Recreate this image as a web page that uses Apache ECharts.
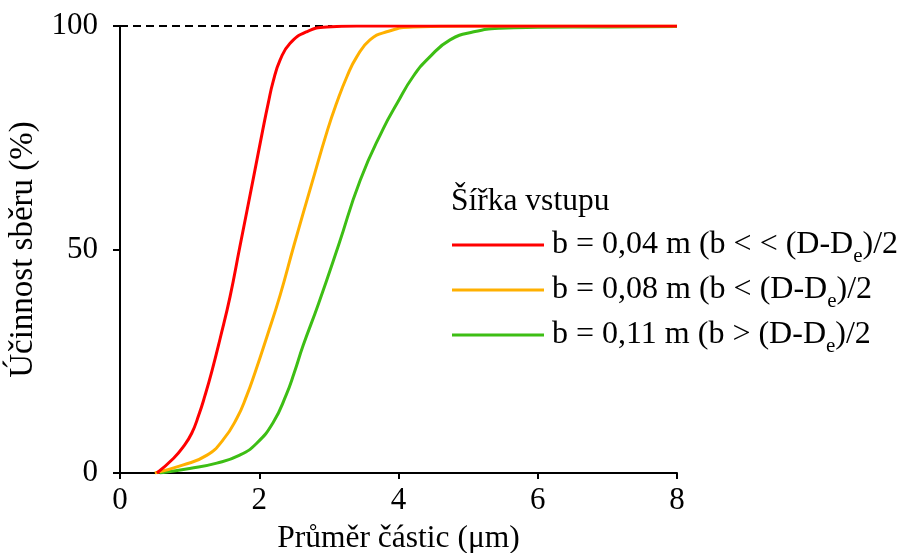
<!DOCTYPE html>
<html><head><meta charset="utf-8">
<script src="https://cdn.jsdelivr.net/npm/echarts@6/dist/echarts.min.js"></script>
<style>html,body{margin:0;padding:0;background:#fff}#c{width:901px;height:553px}</style>
</head><body><div id="c"></div>
<script>
const xTicks = [0, 2, 4, 6, 8];
const yTicks = [0, 50, 100];
const seriesNames = ['b = 0,04 m (b < < (D-De)/2', 'b = 0,08 m (b < (D-De)/2', 'b = 0,11 m (b > (D-De)/2'];
const legendTitle = 'Šířka vstupu';
const xTitle = 'Průměr částic (μm)';
const yTitle = 'Účinnost sběru (%)';
const redData = [[0.53,0],[0.77,3.3],[0.91,5.9],[1.03,8.9],[1.13,12.9],[1.22,17.3],[1.32,22.8],[1.44,30.2],[1.58,39.4],[1.72,50.5],[1.92,66.3],[2.05,76.7],[2.13,82.8],[2.2,87.6],[2.3,92.4],[2.44,96.1],[2.68,98.7],[2.97,99.8],[3.4,100],[4,100],[5,100],[6,100],[8,100]];
const orangeData = [[0.5,0],[0.91,1.8],[1.25,4],[1.48,7.4],[1.68,12.3],[1.82,17.3],[1.94,22.5],[2.11,30.5],[2.3,39.8],[2.5,51],[2.75,64.5],[2.98,76.7],[3.11,82.7],[3.26,88.7],[3.4,93.1],[3.59,96.9],[3.83,98.7],[4.21,99.8],[5,100],[6,100],[8,100]];
const greenData = [[0.57,0],[1.0,1.0],[1.39,2.2],[1.72,4.0],[1.96,6.6],[2.2,11.3],[2.39,17.6],[2.5,22.3],[2.63,28.5],[2.85,37.8],[3.14,51],[3.45,65.5],[3.78,77],[3.98,82.7],[4.21,88.7],[4.45,93.1],[4.74,96.9],[5.08,98.7],[5.46,99.5],[6,99.7],[7,99.8],[8,99.9]];
const refLine = [[0,100],[3.05,100]];
const colors = ['#FF0000', '#FFB000', '#3DBE14'];
const FONT = '"Liberation Serif", "Times New Roman", serif';

const chart = echarts.init(document.getElementById('c'), null, {renderer: 'canvas'});
const lineSeries = [redData, orangeData, greenData].map((d, i) => ({
  name: seriesNames[i], type: 'line', data: d, showSymbol: false, symbol: 'none',
  smooth: 0.5, lineStyle: {color: colors[i], width: 3}, itemStyle: {color: colors[i]}, z: 5 - i
}));
chart.setOption({
  animation: false,
  backgroundColor: '#fff',
  title: {text: legendTitle, left: 451, top: 186, padding: 0,
    textStyle: {fontFamily: FONT, fontSize: 31.5, fontWeight: 'normal', color: '#000'}},
  legend: {
    orient: 'vertical', left: 452, top: 223, padding: 0, itemWidth: 92, itemHeight: 3, itemGap: 1,
    icon: 'rect', data: seriesNames,
    formatter: n => n.replace('D-De', 'D-D{sub|e}'),
    textStyle: {fontFamily: FONT, fontSize: 32, color: '#000', lineHeight: 44, padding: [0,0,0,3],
      rich: {sub: {fontFamily: FONT, fontSize: 21, color: '#000', verticalAlign: 'bottom', lineHeight: 44}}}
  },
  grid: {left: 120, right: 224, top: 26, bottom: 80, containLabel: false, outerBoundsMode: 'none'},
  xAxis: {
    type: 'value', min: 0, max: 8, interval: 2,
    name: xTitle, nameLocation: 'middle', nameGap: 50,
    nameTextStyle: {fontFamily: FONT, fontSize: 31.5, color: '#000'},
    axisLine: {show: true, lineStyle: {color: '#000', width: 2}},
    axisTick: {show: true, inside: false, length: 6, lineStyle: {color: '#000', width: 2}},
    axisLabel: {fontFamily: FONT, fontSize: 31, color: '#000', margin: 12,
      formatter: v => xTicks.includes(v) ? String(v) : ''},
    splitLine: {show: false}
  },
  yAxis: {
    type: 'value', min: 0, max: 100, interval: 50,
    name: yTitle, nameLocation: 'middle', nameGap: 80, nameRotate: 90,
    nameTextStyle: {fontFamily: FONT, fontSize: 33, color: '#000'},
    axisLine: {show: true, lineStyle: {color: '#000', width: 2}},
    axisTick: {show: true, inside: false, length: 7, lineStyle: {color: '#000', width: 2}},
    axisLabel: {fontFamily: FONT, fontSize: 31, color: '#000', margin: 22,
      formatter: v => yTicks.includes(v) ? String(v) : ''},
    splitLine: {show: false}
  },
  series: [
    {name: 'ref', type: 'line', data: refLine, symbol: 'none', showSymbol: false,
     lineStyle: {color: '#000', width: 2, type: [8, 5]}, z: 1, legendHoverLink: false},
    ...lineSeries
  ]
});
</script></body></html>
